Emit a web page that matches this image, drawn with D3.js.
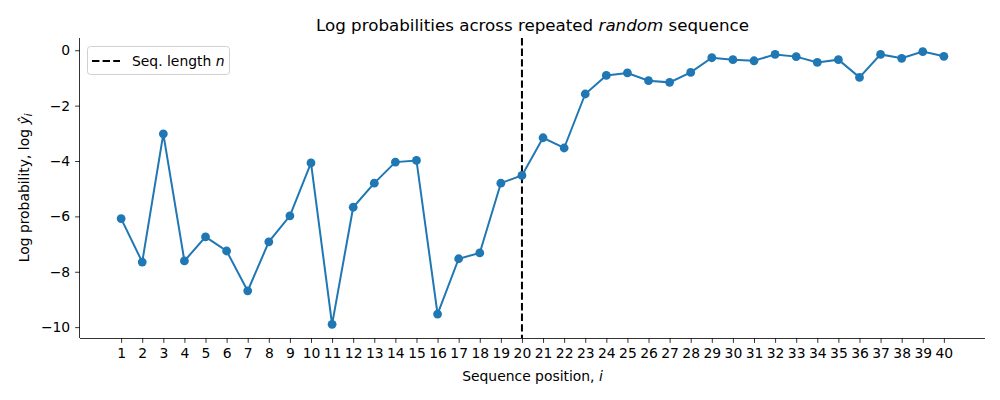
<!DOCTYPE html>
<html><head><meta charset="utf-8">
<script src="https://cdn.jsdelivr.net/npm/d3@7"></script>
<style>body{margin:0;background:#fff}svg{font-family:"DejaVu Sans",sans-serif}</style>
</head><body><svg id="c" width="1000" height="400"></svg>
<script>
const positions = d3.range(1, 41);
const logProbs = [-6.08,-7.65,-3.02,-7.61,-6.74,-7.25,-8.69,-6.92,-5.98,-4.07,
  -9.90,-5.67,-4.80,-4.04,-3.98,-9.53,-7.53,-7.32,-4.80,-4.52,
  -3.16,-3.53,-1.58,-0.91,-0.82,-1.10,-1.16,-0.80,-0.27,-0.34,
  -0.38,-0.15,-0.23,-0.44,-0.34,-0.98,-0.15,-0.29,-0.05,-0.22];
const seqLength = 20;
const yTicks = [0,-2,-4,-6,-8,-10];

const svg = d3.select("#c");
const L=80,R=985,T=38,B=338;
const xmin=d3.min(positions), xmax=d3.max(positions);
const xm=(xmax-xmin)*0.05;
const x = d3.scaleLinear().domain([xmin-xm, xmax+xm]).range([L,R]);
const ymn=d3.min(logProbs), ymx=d3.max(logProbs), ym=(ymx-ymn)*0.05;
const y = d3.scaleLinear().domain([ymn-ym, ymx+ym]).range([B,T]);
const fmt = v => (v<0?"\u2212":"")+Math.abs(v);

const xa = svg.append("g").attr("transform",`translate(0,${B})`)
  .call(d3.axisBottom(x).tickValues(positions).tickSize(4.9).tickPadding(4.9).tickFormat(d=>d));
xa.select(".domain").attr("d",`M${L},0.5H${R}`).attr("stroke","#000").attr("stroke-width",0.8);
xa.selectAll(".tick line").attr("stroke","#000").attr("stroke-width",0.8);
xa.selectAll("text").attr("font-size",13.9).attr("fill","#000").attr("font-family","DejaVu Sans");

const ya = svg.append("g").attr("transform",`translate(${L},0)`)
  .call(d3.axisLeft(y).tickValues(yTicks).tickSize(4.9).tickPadding(4.9).tickFormat(fmt));
ya.select(".domain").attr("d",`M-0.5,${T}V${B}`).attr("stroke","#000").attr("stroke-width",0.8);
ya.selectAll(".tick line").attr("stroke","#000").attr("stroke-width",0.8);
ya.selectAll("text").attr("font-size",13.9).attr("fill","#000").attr("font-family","DejaVu Sans");

// vertical dashed line
svg.append("line").attr("x1",x(seqLength)).attr("x2",x(seqLength)).attr("y1",T).attr("y2",B)
  .attr("stroke","#000").attr("stroke-width",2).attr("stroke-dasharray","7.4,3.2");

const data = positions.map((p,i)=>({p,v:logProbs[i]}));
svg.append("path").datum(data).attr("fill","none").attr("stroke","#1f77b4").attr("stroke-width",2)
  .attr("d",d3.line().x(d=>x(d.p)).y(d=>y(d.v)));
svg.append("g").selectAll("circle").data(data).join("circle")
  .attr("cx",d=>x(d.p)).attr("cy",d=>y(d.v)).attr("r",4.4).attr("fill","#1f77b4");

// title
const t = svg.append("text").attr("x",(L+R)/2).attr("y",31).attr("text-anchor","middle").attr("font-size",16.7);
t.append("tspan").text("Log probabilities across repeated ");
t.append("tspan").attr("font-style","italic").text("random");
t.append("tspan").text(" sequence");

// x label
const xl = svg.append("text").attr("x",(L+R)/2).attr("y",381).attr("text-anchor","middle").attr("font-size",13.9);
xl.append("tspan").text("Sequence position, ");
xl.append("tspan").attr("font-style","italic").text("i");

// y label
const yl = svg.append("text").attr("transform",`translate(29,${(T+B)/2}) rotate(-90)`).attr("text-anchor","middle").attr("font-size",13.9);
yl.append("tspan").text("Log probability, log ");
yl.append("tspan").attr("font-style","italic").text("\u0177");
yl.append("tspan").attr("font-style","italic").attr("font-size",9.7).attr("dy",3).text("i");

// legend
const lg = svg.append("g");
lg.append("rect").attr("x",87.5).attr("y",46.5).attr("width",142).attr("height",28).attr("rx",3)
  .attr("fill","#fff").attr("fill-opacity",0.8).attr("stroke","#d0d0d0").attr("stroke-width",1);
lg.append("line").attr("x1",92).attr("x2",120).attr("y1",61).attr("y2",61)
  .attr("stroke","#000").attr("stroke-width",2).attr("stroke-dasharray","7.4,3.2");
const lt = lg.append("text").attr("x",132).attr("y",66).attr("font-size",13.9);
lt.append("tspan").text("Seq. length ");
lt.append("tspan").attr("font-style","italic").text("n");
</script></body></html>
